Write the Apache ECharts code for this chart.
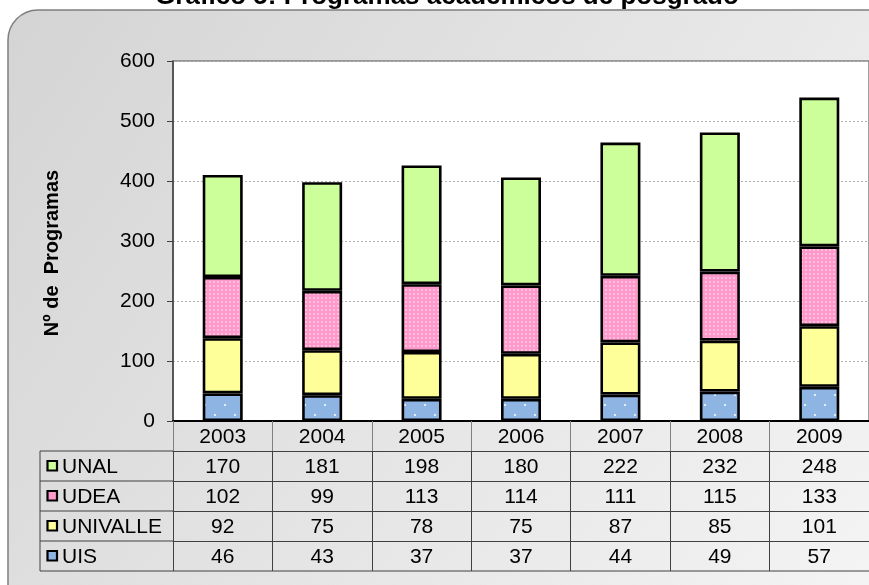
<!DOCTYPE html>
<html>
<head>
<meta charset="utf-8">
<title>Programas académicos de posgrado</title>
<script src="https://cdn.jsdelivr.net/npm/echarts@6/dist/echarts.min.js"></script>
<style>
  html, body { margin: 0; padding: 0; background: #fff; }
  #chart { width: 869px; height: 585px; }
</style>
</head>
<body>
<div id="chart"></div>
<script>
// datos del gráfico
const years = ['2003', '2004', '2005', '2006', '2007', '2008', '2009'];
const unal = [170, 181, 198, 180, 222, 232, 248];
const udea = [102, 99, 113, 114, 111, 115, 133];
const univalle = [92, 75, 78, 75, 87, 85, 101];
const uis = [46, 43, 37, 37, 44, 49, 57];
const yMin = 0, yMax = 600, yStep = 100;

const FONT = 'Liberation Sans, Arial, sans-serif';
const FS = 21;
const ROW_H = 30;

// patrón de puntos para las barras
function dotPattern(bg, dot, size, points, r) {
    const c = document.createElement('canvas');
    c.width = size; c.height = size;
    const ctx = c.getContext('2d');
    ctx.fillStyle = bg;
    ctx.fillRect(0, 0, size, size);
    ctx.fillStyle = dot;
    points.forEach(p => {
        ctx.beginPath();
        ctx.arc(p[0], p[1], r, 0, Math.PI * 2);
        ctx.fill();
    });
    return c;
}

const colUnal = '#CCFF99';
const colUdea = '#FF99CC';
const colUnivalle = '#FFFF99';
const colUis = '#8DB4E2';

const patUdea = { image: dotPattern(colUdea, 'rgba(255,255,255,0.85)', 4, [[2, 2]], 0.8), repeat: 'repeat' };
const patUis = { image: dotPattern(colUis, 'rgba(255,255,255,0.95)', 20, [[5, 5], [15, 15]], 1.1), repeat: 'repeat' };

// filas de la tabla (de arriba hacia abajo)
const rowNames = ['UNAL', 'UDEA', 'UNIVALLE', 'UIS'];
const rowValues = [unal, udea, univalle, uis];
const rowColors = [colUnal, colUdea, colUnivalle, colUis];

const chart = echarts.init(document.getElementById('chart'));

const gridLeft = 173, gridTop = 61, gridH = 360, gridW = 707;
const tableTop = gridTop + gridH;

function barSeries(name, data, color) {
    return {
        name: name,
        type: 'bar',
        stack: 'total',
        barWidth: 40,
        data: data,
        itemStyle: { color: color, borderColor: '#000', borderWidth: 2.6 },
        emphasis: { disabled: true }
    };
}

// ejes de las filas de la tabla
const rowAxes = rowValues.map((vals, k) => ({
    type: 'category',
    data: years,
    gridIndex: 0,
    position: 'bottom',
    offset: ROW_H * (k + 1),
    axisLine: { show: true, lineStyle: { color: '#404040', width: 1 } },
    axisTick: { show: true, length: ROW_H, interval: 0, lineStyle: { color: '#404040', width: 1 } },
    axisLabel: {
        margin: 6, fontSize: FS, color: '#000', fontFamily: FONT, interval: 0,
        formatter: (v, i) => String(vals[i])
    },
    splitLine: { show: false }
}));

// columna de encabezados de la tabla
const headerGraphics = [];
const hx0 = 40;
for (let k = 0; k <= rowNames.length; k++) {
    headerGraphics.push({
        type: 'line', z: 10,
        shape: { x1: hx0, y1: tableTop + ROW_H * (k + 1), x2: gridLeft, y2: tableTop + ROW_H * (k + 1) },
        style: { stroke: '#404040', lineWidth: 1 }
    });
}
headerGraphics.push({
    type: 'line', z: 10,
    shape: { x1: hx0, y1: tableTop + ROW_H, x2: hx0, y2: tableTop + ROW_H * 5 },
    style: { stroke: '#404040', lineWidth: 1 }
});
headerGraphics.push({
    type: 'line', z: 10,
    shape: { x1: gridLeft, y1: tableTop + ROW_H * 5, x2: 869, y2: tableTop + ROW_H * 5 },
    style: { stroke: '#404040', lineWidth: 1 }
});
rowNames.forEach((n, k) => {
    const cy = tableTop + ROW_H * (k + 1) + ROW_H / 2;
    headerGraphics.push({
        type: 'rect', z: 10,
        shape: { x: 47.5, y: cy - 5, width: 9.5, height: 9.5 },
        style: { fill: rowColors[k], stroke: '#000', lineWidth: 2.2 }
    });
    headerGraphics.push({
        type: 'text', z: 10,
        x: 62, y: cy + 1,
        style: { text: n, fontSize: FS, fontFamily: FONT, fill: '#000', verticalAlign: 'middle', align: 'left' }
    });
});

const option = {
    animation: false,
    backgroundColor: '#fff',
    title: {
        text: 'Gráfico 5: Programas académicos de posgrado',
        left: 442,
        textAlign: 'center',
        top: -21,
        textStyle: { fontSize: 26, fontWeight: 'bold', fontFamily: FONT, color: '#000' }
    },
    graphic: [
        {
            type: 'rect', z: -100,
            shape: { x: 8, y: 10, width: 920, height: 620, r: 30 },
            style: {
                fill: {
                    type: 'linear', x: 0, y: 0, x2: 1, y2: 1,
                    colorStops: [{ offset: 0, color: '#d4d4d4' }, { offset: 1, color: '#f6f6f6' }]
                },
                stroke: '#7f7f7f', lineWidth: 1.5
            }
        }
    ].concat(headerGraphics),
    grid: {
        left: gridLeft, top: gridTop, width: gridW, height: gridH,
        show: true, backgroundColor: '#fff', borderColor: '#808080', borderWidth: 1.5
    },
    xAxis: [{
        type: 'category',
        data: years,
        position: 'bottom',
        axisLine: { show: true, lineStyle: { color: '#000', width: 2 } },
        axisTick: { show: true, length: ROW_H, interval: 0, lineStyle: { color: '#808080', width: 1 } },
        axisLabel: { margin: 6, fontSize: FS, color: '#000', fontFamily: FONT, interval: 0 },
        splitLine: { show: false }
    }].concat(rowAxes),
    yAxis: {
        type: 'value',
        min: yMin, max: yMax, interval: yStep,
        name: 'Nº de  Programas',
        nameLocation: 'middle',
        nameRotate: 90,
        nameGap: 111,
        nameTextStyle: { fontSize: 20, fontWeight: 'bold', fontFamily: FONT, color: '#000', padding: [0, 24, 0, 0] },
        axisLine: { show: true, lineStyle: { color: '#404040', width: 1.5 } },
        axisTick: { show: true, length: 6, lineStyle: { color: '#404040' } },
        axisLabel: { margin: 18, fontSize: FS, color: '#000', fontFamily: FONT },
        splitLine: { show: true, lineStyle: { color: '#b0b0b0', type: [2, 2], width: 1 } }
    },
    series: [
        barSeries('UIS', uis, patUis),
        barSeries('UNIVALLE', univalle, colUnivalle),
        barSeries('UDEA', udea, patUdea),
        barSeries('UNAL', unal, colUnal)
    ]
};

chart.setOption(option);
</script>
</body>
</html>
